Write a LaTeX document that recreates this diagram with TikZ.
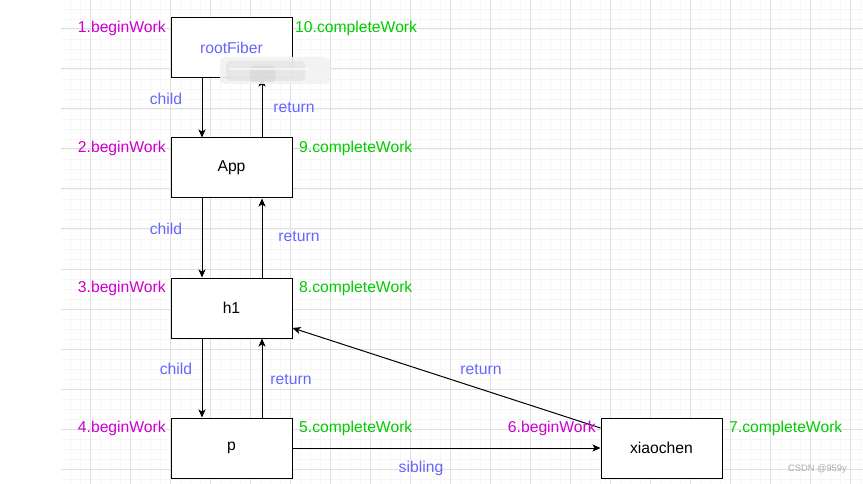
\documentclass[tikz,border=0pt]{standalone}
\usepackage{fontspec}
\setmainfont{Liberation Sans}
\usetikzlibrary{arrows.meta}
\definecolor{gmajor}{RGB}{224,224,224}
\definecolor{gminor}{RGB}{246,246,246}
\definecolor{cbegin}{RGB}{204,0,204}
\definecolor{ccomplete}{RGB}{0,204,0}
\definecolor{clabel}{RGB}{102,102,255}
\definecolor{cmark}{RGB}{170,170,170}
\tikzset{
  fiber/.style={draw=black, line width=1pt, fill=white, minimum width=121pt, minimum height=60pt, inner sep=0pt, font=\fontsize{15.7}{18}\selectfont},
  conn/.style={draw=black, line width=1pt, -{Stealth[length=8pt,width=7pt,inset=2pt]}},
  beginlbl/.style={text=cbegin, anchor=east, inner sep=0pt, yshift=-1.5pt, font=\fontsize{15.7}{18}\selectfont},
  completelbl/.style={text=ccomplete, anchor=west, inner sep=0pt, yshift=-1.5pt, font=\fontsize{15.7}{18}\selectfont},
  edgelbl/.style={text=clabel, inner sep=0pt, yshift=-1.5pt, font=\fontsize{15.7}{18}\selectfont},
  minorline/.style={draw=gminor, line width=0.7pt},
  majorline/.style={draw=gmajor, line width=1pt}
}
\begin{document}
\begin{tikzpicture}[x=1pt,y=-1pt]
\useasboundingbox (0,0) rectangle (863,484);
\fill[white] (0,0) rectangle (863,484);
% grid
\foreach \x in {70,80,...,860} \draw[minorline] (\x,0) -- (\x,484);
\foreach \y in {9,19,...,479} \draw[minorline] (61,\y) -- (863,\y);
\foreach \x in {90,130,...,850} \draw[majorline] (\x,0) -- (\x,484);
\foreach \y in {29,69,...,469} \draw[majorline] (61,\y) -- (863,\y);
% boxes
\node[fiber, text=clabel] (root) at (231.5,48) {rootFiber};
\node[fiber] (app) at (231.5,168) {App};
\node[fiber] (h1) at (231.5,308) {h1};
\node[fiber] (p) at (231.5,448) {p};
\node[fiber] (xc) at (661.5,448) {xiaochen};
% connectors
\draw[conn] ([xshift=-29.5pt]root.south) -- ([xshift=-29.5pt]app.north);
\draw[conn] ([xshift=30.5pt]app.north) -- ([xshift=30.5pt]root.south);
\draw[conn] ([xshift=-29.5pt]app.south) -- ([xshift=-29.5pt]h1.north);
\draw[conn] ([xshift=30.5pt]h1.north) -- ([xshift=30.5pt]app.south);
\draw[conn] ([xshift=-29.5pt]h1.south) -- ([xshift=-29.5pt]p.north);
\draw[conn] ([xshift=30.5pt]p.north) -- ([xshift=30.5pt]h1.south);
\draw[conn] ([yshift=20pt]xc.west) -- ([yshift=-20pt]h1.east);
\draw[conn] (p.east) -- (xc.west);
% blurred patch
\fill[gray!10, rounded corners=5pt, opacity=0.9] (220,57) rectangle (330,84);
\fill[gray!22, rounded corners=4pt, opacity=0.7] (226,61) rectangle (305,81);
\fill[gray!35, rounded corners=3pt, opacity=0.5] (250,66) rectangle (275,82);
\fill[white, opacity=0.6] (230,68) rectangle (310,70);
% edge labels
\node[edgelbl] (c1) at (166,97) {child};
\node[edgelbl] (r1) at (294,106) {return};
\node[edgelbl] (c2) at (166,227) {child};
\node[edgelbl] (r2) at (299,235) {return};
\node[edgelbl] (c3) at (176,367) {child};
\node[edgelbl] (r3) at (291,378) {return};
\node[edgelbl] (r4) at (481,368) {return};
\node[edgelbl] (sb) at (421,467) {sibling};
% step labels
\node[beginlbl] (b1) at (166,27) {1.beginWork};
\node[beginlbl] (b2) at (166,147) {2.beginWork};
\node[beginlbl] (b3) at (166,287) {3.beginWork};
\node[beginlbl] (b4) at (166,427) {4.beginWork};
\node[beginlbl] (b6) at (596,427) {6.beginWork};
\node[completelbl] (w10) at (295,27) {10.completeWork};
\node[completelbl] (w9) at (299,147) {9.completeWork};
\node[completelbl] (w8) at (299,287) {8.completeWork};
\node[completelbl] (w5) at (299,427) {5.completeWork};
\node[completelbl] (w7) at (729,427) {7.completeWork};
% watermark
\node[text=cmark, anchor=west, inner sep=0pt, font=\fontsize{9.3}{11}\selectfont] (wm) at (788,469) {CSDN @959y};
\end{tikzpicture}
\end{document}
